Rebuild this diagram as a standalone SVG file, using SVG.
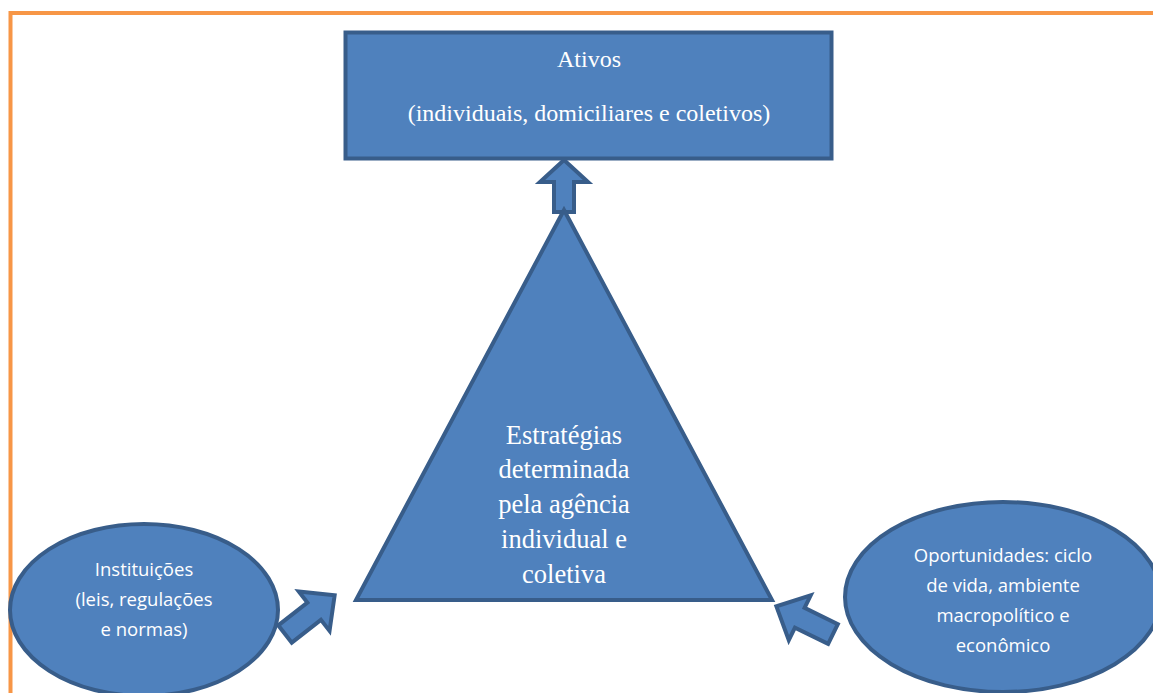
<svg xmlns="http://www.w3.org/2000/svg" width="1153" height="693" viewBox="0 0 1153 693">
<defs>
<style>
.shape{fill:#4F81BD;stroke:#385D8A;stroke-width:4;stroke-linejoin:miter}
.serif{font-family:"Liberation Serif","Times New Roman",serif;fill:#FFFFFF;text-anchor:middle}
.sans{font-family:"Open Sans","Liberation Sans",Arial,sans-serif;fill:#FFFFFF;text-anchor:middle;font-size:18.5px}
</style>
</defs>
<rect x="0" y="0" width="1153" height="693" fill="#FFFFFF"/>
<rect x="10.5" y="13" width="1200" height="800" fill="none" stroke="#F79646" stroke-width="4"/>
<g id="connectors">
<polygon class="shape" transform="translate(564,212) rotate(-90)" points="0,-10 30,-10 30,-24 52,0 30,24 30,10 0,10"/>
<polygon class="shape" transform="translate(285,634) rotate(-38)" points="0,-11 37,-11 37,-25 63,0 37,25 37,11 0,11"/>
<polygon class="shape" transform="translate(833,634) rotate(-154)" points="0,-11 37,-11 37,-25 63,0 37,25 37,11 0,11"/>
</g>
<g id="ativos">
<rect class="shape" x="345.5" y="32.5" width="486" height="126"/>
<text class="serif" x="589" y="67" font-size="24">Ativos</text>
<text class="serif" x="589" y="121" font-size="24">(individuais, domiciliares e coletivos)</text>
</g>
<g id="estrategias">
<polygon class="shape" points="564,210 356,600 772,600"/>
<text class="serif" font-size="26.5"><tspan x="564" y="444">Estratégias</tspan><tspan x="564" y="478">determinada</tspan><tspan x="564" y="513">pela agência</tspan><tspan x="564" y="548">individual e</tspan><tspan x="564" y="583">coletiva</tspan></text>
</g>
<g id="instituicoes">
<ellipse class="shape" cx="144" cy="610" rx="134" ry="86"/>
<text class="sans"><tspan x="144" y="576">Instituições</tspan><tspan x="144" y="606">(leis, regulações</tspan><tspan x="144" y="636">e normas)</tspan></text>
</g>
<g id="oportunidades">
<ellipse class="shape" cx="1003" cy="597" rx="158" ry="95"/>
<text class="sans"><tspan x="1003" y="562">Oportunidades: ciclo</tspan><tspan x="1003" y="592">de vida, ambiente</tspan><tspan x="1003" y="622">macropolítico e</tspan><tspan x="1003" y="652">econômico</tspan></text>
</g>
</svg>
